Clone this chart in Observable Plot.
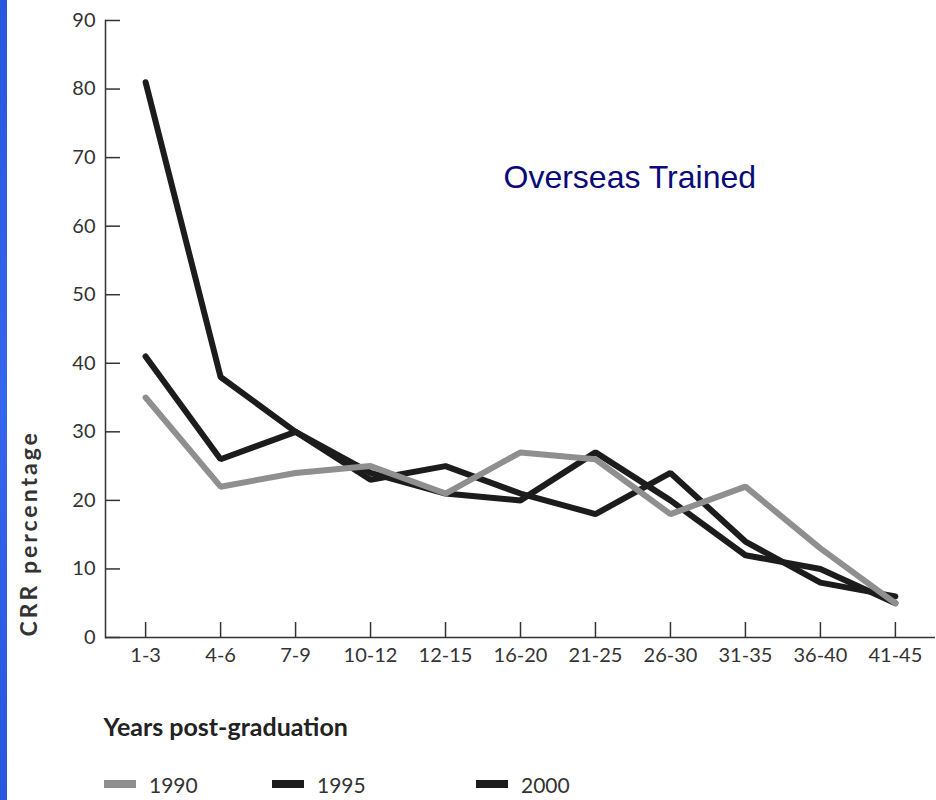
<!DOCTYPE html>
<html><head><meta charset="utf-8">
<script src="https://cdn.jsdelivr.net/npm/d3@7"></script>
<script src="https://cdn.jsdelivr.net/npm/@observablehq/plot@0.6"></script>
<style>
html,body{margin:0;padding:0;background:#fff;}
#strip{position:absolute;left:0;top:0;width:7px;height:800px;background:linear-gradient(#2a55de,#3566ee 50%,#2a55de);z-index:2;}
#chart{position:relative;width:936px;height:760px;}
#legend{position:relative;height:40px;width:936px;font-family:Lato,sans-serif;font-size:21px;color:#333;}
.item{position:absolute;top:6px;display:flex;align-items:center;height:36px}
.sw{display:inline-block;width:32px;height:8px;margin-right:13px}
</style></head><body>
<div id="strip"></div>
<div id="chart"></div>
<div id="legend"></div>
<script>
const categories = ["1-3","4-6","7-9","10-12","12-15","16-20","21-25","26-30","31-35","36-40","41-45"];
const series1990 = [35,22,24,25,21,27,26,18,22,13,5];
const series1995 = [41,26,30,23,25,21,18,24,14,8,6];
const series2000 = [81,38,30,24,21,20,27,20,12,10,5];
const seriesNames = ["1990","1995","2000"];
const seriesColors = ["#8f8f8f","#1c1c1c","#1c1c1c"];
const yTicks = [0,10,20,30,40,50,60,70,80,90];
const titleText = "Overseas Trained";
const xLabel = "Years post-graduation";
const yLabel = "CRR percentage";

const rows = [];
[[series1995,"1995"],[series2000,"2000"],[series1990,"1990"]].forEach(([vals,name]) =>
  vals.forEach((v,i) => rows.push({cat: categories[i], value: v, series: name})));

const W=936, H=760, ML=105, MR=1, MT=20, MB=123;
const fw = W-ML-MR, fh = H-MT-MB;

const plot = Plot.plot({
  width: W, height: H, marginLeft: ML, marginRight: MR, marginTop: MT, marginBottom: MB,
  style: {fontFamily: "Lato, sans-serif", fontSize: "20px", color: "#333", background: "transparent", overflow: "visible"},
  x: {type: "point", domain: categories, padding: 0.535, round: false},
  y: {domain: [0, 90]},
  color: {domain: seriesNames, range: seriesColors},
  marks: [
    Plot.axisY(yTicks, {tickSize: 0, tickPadding: 10, fontSize: 20, label: null, fill: "#333"}),
    Plot.axisX({tickSize: 0, tickPadding: 10, fontSize: 20, label: null, fill: "#333"}),
    Plot.ruleY(yTicks, {y: d => d, insetRight: fw - 15, stroke: "#333", strokeWidth: 1.5}),
    Plot.ruleX(categories, {x: d => d, insetTop: fh - 15, stroke: "#333", strokeWidth: 1.5}),
    Plot.ruleY([0], {stroke: "#333", strokeWidth: 1.5}),
    Plot.frame({anchor: "left", stroke: "#333", strokeWidth: 1.5}),
    Plot.line(rows, {x: "cat", y: "value", z: "series", stroke: "series", strokeWidth: 6, strokeLinejoin: "miter"}),
    Plot.text([titleText], {frameAnchor: "top-left", dx: 398, dy: 167, text: d => d, textAnchor: "start", lineAnchor: "bottom", fontFamily: "Liberation Sans, Arial, sans-serif", fontSize: 32, fill: "#0a0a78"}),
    Plot.text([yLabel], {frameAnchor: "bottom-left", dx: -69, dy: -1, rotate: -90, text: d => d, textAnchor: "start", fontWeight: "bold", fontSize: 23, fill: "#333"}),
    Plot.text([xLabel], {frameAnchor: "bottom-left", dx: -2, dy: 98, text: d => d, textAnchor: "start", lineAnchor: "bottom", fontWeight: "bold", fontSize: 25, fill: "#222"})
  ]
});
d3.select(plot).selectAll("text").filter(function() { return this.textContent === yLabel; }).style("letter-spacing", "3px");
document.getElementById("chart").appendChild(plot);

const legend = document.getElementById("legend");
const lefts = [104, 272, 476];
seriesNames.forEach((name, i) => {
  const item = document.createElement("div");
  item.className = "item";
  item.style.left = lefts[i] + "px";
  const sw = document.createElement("span");
  sw.className = "sw";
  sw.style.background = seriesColors[i];
  item.appendChild(sw);
  item.appendChild(document.createTextNode(name));
  legend.appendChild(item);
});
</script>
</body></html>
